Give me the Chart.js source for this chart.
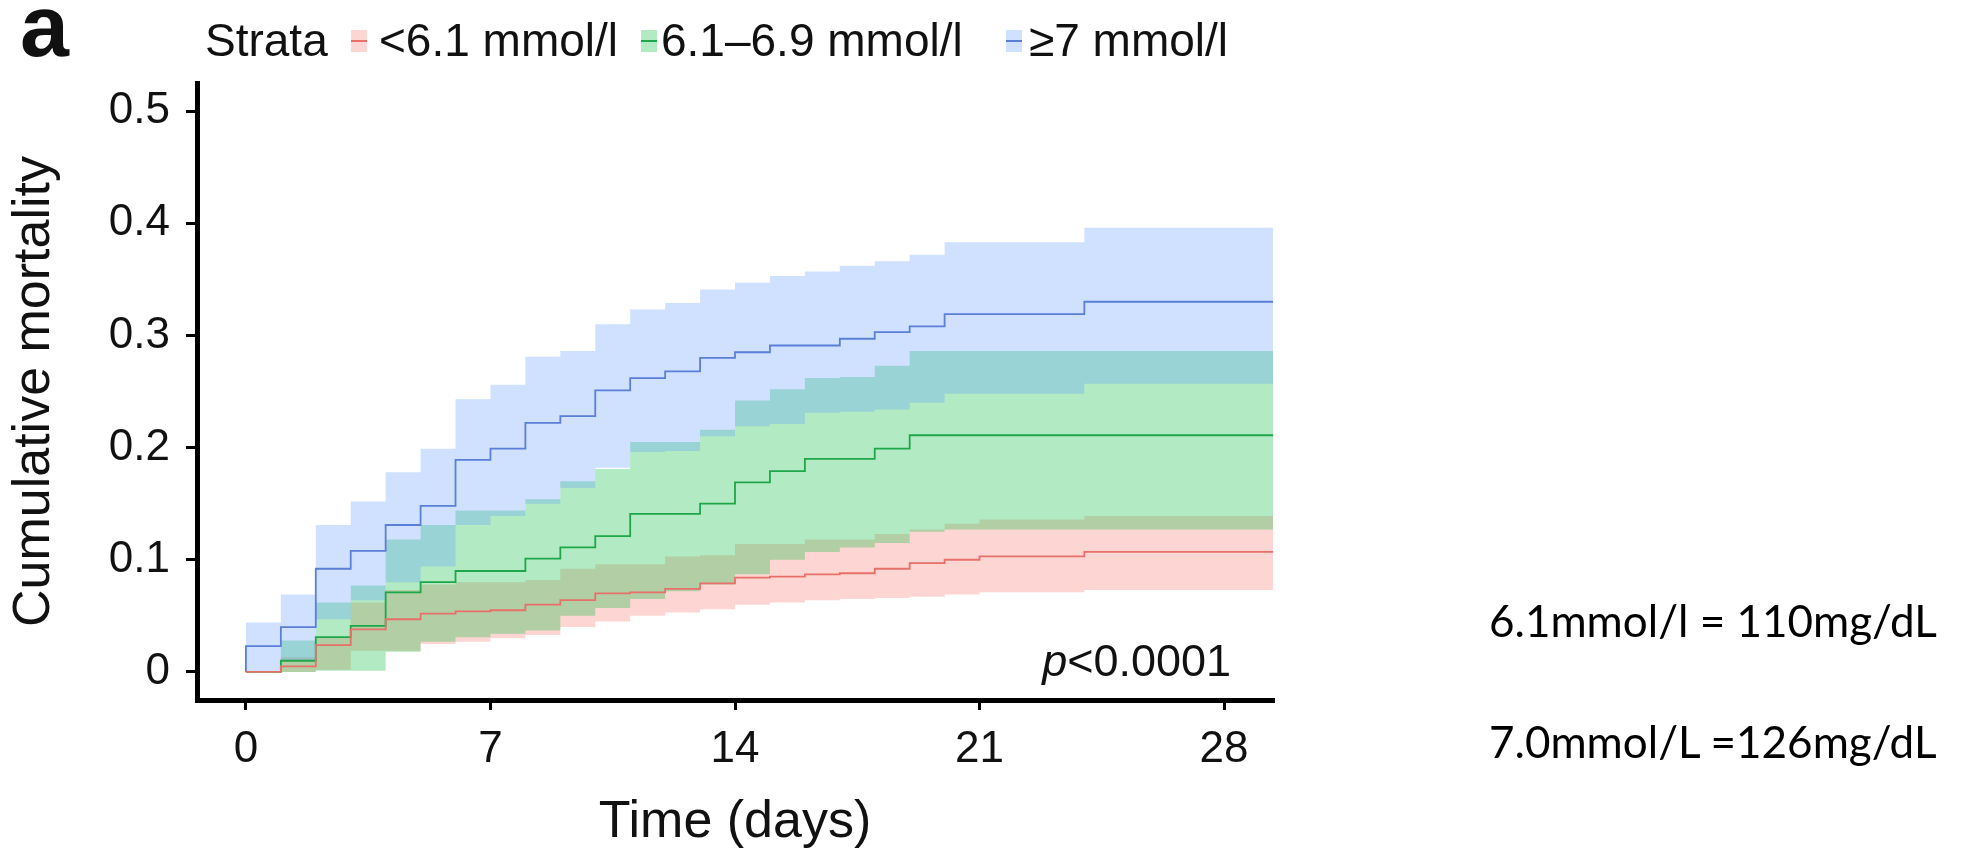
<!DOCTYPE html>
<html>
<head>
<meta charset="utf-8">
<script src="https://cdn.jsdelivr.net/npm/chart.js@4.4.0/dist/chart.umd.min.js"></script>
<style>
  body { margin: 0; background: #fff; }
  #wrap { position: relative; width: 1964px; height: 850px; overflow: hidden; font-family: "Liberation Sans", Arial, sans-serif; color: #111; }
  #km { position: absolute; left: 0; top: 0; }
  .lbl { position: absolute; white-space: nowrap; }
  .panel { left: 20px; top: -18px; font-size: 88px; line-height: 88px; font-weight: bold; }
  .leg { top: 17px; font-size: 46px; line-height: 46px; }
  .sw { position: absolute; top: 30px; width: 16px; height: 22px; }
  .sw i { position: absolute; left: 0; right: 0; top: 10px; height: 2px; }
  .note { left: 1489px; font-family: Lato, "Open Sans", sans-serif; font-size: 44px; line-height: 44px; color: #000; }
</style>
</head>
<body>
<div id="wrap">
  <canvas id="km" width="1964" height="850"></canvas>
  <div class="lbl panel">a</div>
  <div class="lbl leg" style="left:205px">Strata</div>
  <div class="sw" style="left:351px;background:rgba(248,118,109,0.3)"><i style="background:#e8706a"></i></div>
  <div class="lbl leg" style="left:379px">&lt;6.1 mmol/l</div>
  <div class="sw" style="left:641px;background:rgba(0,186,56,0.3)"><i style="background:#1fa64a"></i></div>
  <div class="lbl leg" style="left:661px">6.1–6.9 mmol/l</div>
  <div class="sw" style="left:1006px;background:rgba(97,156,255,0.3)"><i style="background:#5b7fd6"></i></div>
  <div class="lbl leg" style="left:1029px">≥7 mmol/l</div>
  <div class="lbl note" style="top:598px">6.1mmol/l = 110mg/dL</div>
  <div class="lbl note" style="top:719px">7.0mmol/L =126mg/dL</div>
</div>
<script>
// time points (days) where each step starts
var days = [0,1,2,3,4,5,6,7,8,9,10,11,12,13,14,15,16,17,18,19,20,21,22,23,24,25,26,27,28];
var lastDay = 29.4;

// <6.1 mmol/l
var redLow  = [0,0,0.002,0.019,0.019,0.025,0.027,0.030,0.033,0.040,0.045,0.050,0.053,0.056,0.060,0.062,0.064,0.065,0.066,0.067,0.069,0.071,0.071,0.071,0.073,0.073,0.073,0.073,0.073];
var redMid  = [0,0.005,0.024,0.038,0.047,0.052,0.054,0.055,0.060,0.064,0.070,0.071,0.074,0.079,0.084,0.085,0.087,0.088,0.092,0.097,0.100,0.103,0.103,0.103,0.107,0.107,0.107,0.107,0.107];
var redHigh = [0,0.013,0.031,0.062,0.073,0.078,0.080,0.080,0.082,0.092,0.096,0.096,0.103,0.104,0.114,0.114,0.118,0.118,0.123,0.127,0.132,0.136,0.136,0.136,0.139,0.139,0.139,0.139,0.139];

// 6.1-6.9 mmol/l
var greenLow  = [0,0,0.001,0.001,0.018,0.027,0.031,0.034,0.037,0.050,0.057,0.065,0.072,0.078,0.087,0.100,0.107,0.111,0.115,0.125,0.127,0.127,0.127,0.127,0.127,0.127,0.127,0.127,0.127];
var greenMid  = [0,0.010,0.031,0.041,0.071,0.080,0.090,0.090,0.101,0.111,0.121,0.141,0.141,0.150,0.169,0.179,0.190,0.190,0.199,0.211,0.211,0.211,0.211,0.211,0.211,0.211,0.211,0.211,0.211];
var greenHigh = [0,0.028,0.062,0.077,0.118,0.131,0.144,0.144,0.154,0.170,0.181,0.205,0.205,0.216,0.242,0.252,0.262,0.263,0.273,0.286,0.286,0.286,0.286,0.286,0.286,0.286,0.286,0.286,0.286];

// >=7 mmol/l
var blueLow  = [0,0.010,0.047,0.064,0.080,0.094,0.131,0.139,0.150,0.164,0.182,0.196,0.197,0.210,0.219,0.221,0.231,0.232,0.234,0.240,0.248,0.248,0.248,0.248,0.257,0.257,0.257,0.257,0.257];
var blueMid  = [0.023,0.040,0.092,0.108,0.131,0.148,0.189,0.199,0.222,0.228,0.251,0.262,0.268,0.280,0.285,0.291,0.291,0.297,0.303,0.308,0.319,0.319,0.319,0.319,0.330,0.330,0.330,0.330,0.330];
var blueHigh = [0.044,0.069,0.131,0.152,0.178,0.199,0.243,0.256,0.281,0.286,0.310,0.323,0.329,0.341,0.347,0.353,0.357,0.362,0.366,0.372,0.383,0.383,0.383,0.383,0.396,0.396,0.396,0.396,0.396];

var xTicks = [0,7,14,21,28];
var yTicks = [0,0.1,0.2,0.3,0.4,0.5];
var pText = '<0.0001';

var FONT = '"Liberation Sans", Arial, sans-serif';

function steps(vals){
    var pts = [{x: days[0], y: 0}];
    for (var i = 0; i < days.length; i++) pts.push({x: days[i], y: vals[i]});
    pts.push({x: lastDay, y: vals[vals.length - 1]});
    return pts;
}

function band(vals, order){
    return { data: steps(vals), stepped: true, borderWidth: 0, borderColor: 'transparent', pointRadius: 0, fill: false, order: order };
}

function ribbonTop(vals, color, order){
    var d = band(vals, order);
    d.fill = '-1';
    d.backgroundColor = color;
    return d;
}

function curve(vals, color){
    return { data: steps(vals), stepped: true, borderWidth: 1.8, borderColor: color, pointRadius: 0, fill: false, order: 0 };
}

var pLabel = {
    id: 'pLabel',
    afterDraw: function(chart){
        var ctx = chart.ctx;
        var xr = chart.scales.x.getPixelForValue(28.2);
        var yb = chart.scales.y.getPixelForValue(-0.004);
        ctx.save();
        ctx.fillStyle = '#111';
        ctx.textBaseline = 'alphabetic';
        ctx.font = '45px ' + FONT;
        var w2 = ctx.measureText(pText).width;
        ctx.textAlign = 'right';
        ctx.fillText(pText, xr, yb);
        ctx.font = 'italic 45px ' + FONT;
        ctx.fillText('p', xr - w2, yb);
        ctx.restore();
    }
};

var ctxKm = document.getElementById('km').getContext('2d');

var grafico_km = new Chart(ctxKm, {
    type: 'line',
    data: {
        datasets: [
            band(redLow, 3),
            ribbonTop(redHigh, 'rgba(248,118,109,0.3)', 3),
            band(greenLow, 2),
            ribbonTop(greenHigh, 'rgba(0,186,56,0.3)', 2),
            band(blueLow, 1),
            ribbonTop(blueHigh, 'rgba(97,156,255,0.3)', 1),
            curve(redMid, '#e8706a'),
            curve(greenMid, '#1fa64a'),
            curve(blueMid, '#5b7fd6')
        ]
    },
    options: {
        responsive: false,
        devicePixelRatio: 1,
        animation: false,
        layout: { padding: { left: 0, top: 83, right: 691, bottom: 0 } },
        plugins: { legend: { display: false }, tooltip: { enabled: false } },
        scales: {
            x: {
                type: 'linear',
                min: -1.4,
                max: 29.4,
                afterBuildTicks: function(s){ s.ticks = xTicks.map(function(v){ return {value: v}; }); },
                afterFit: function(s){ s.height = 150; },
                grid: { drawOnChartArea: false, tickLength: 10, lineWidth: 3, color: '#000' },
                border: { width: 5, color: '#000' },
                ticks: { color: '#111', padding: 13, font: { size: 44, family: FONT } },
                title: { display: true, text: 'Time (days)', color: '#111', padding: { top: 0, bottom: 1 }, font: { size: 52, family: FONT, lineHeight: 1 } }
            },
            y: {
                min: -0.025,
                max: 0.525,
                afterBuildTicks: function(s){ s.ticks = yTicks.map(function(v){ return {value: v}; }); },
                afterFit: function(s){ s.width = 197; },
                grid: { drawOnChartArea: false, tickLength: 11, lineWidth: 3, color: '#000' },
                border: { width: 5, color: '#000' },
                ticks: { color: '#111', padding: 16, font: { size: 44, family: FONT } },
                title: { display: true, text: 'Cumulative mortality', color: '#111', padding: { top: 9, bottom: 0 }, font: { size: 52, family: FONT, lineHeight: 1 } }
            }
        }
    },
    plugins: [pLabel]
});
</script>
</body>
</html>
